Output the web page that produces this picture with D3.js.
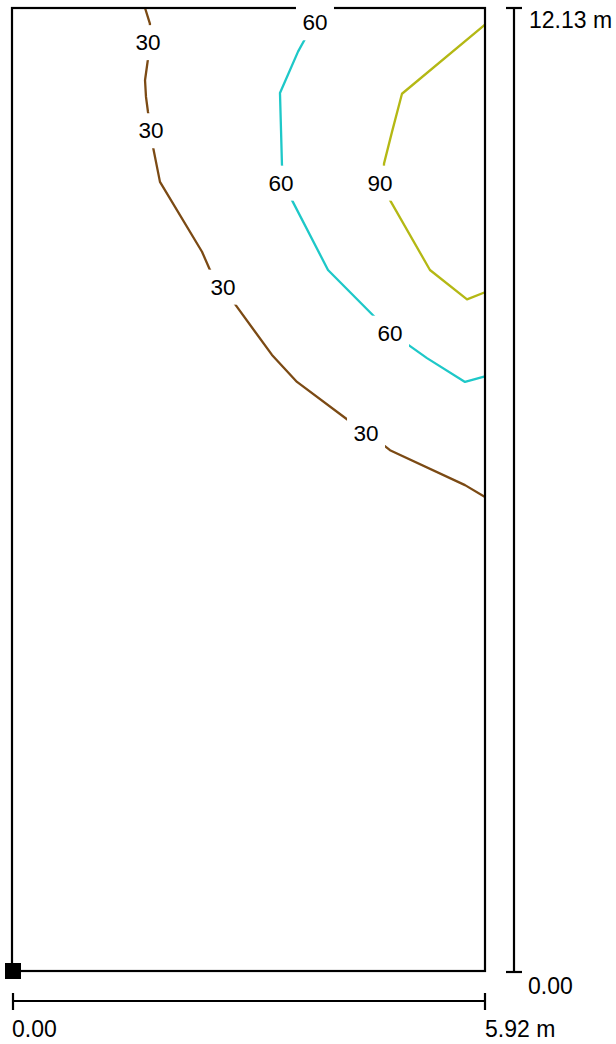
<!DOCTYPE html>
<html>
<head>
<meta charset="utf-8">
<script src="https://cdn.jsdelivr.net/npm/d3@7"></script>
<style>
  html, body { margin: 0; padding: 0; background: #fff; }
  svg { display: block; }
  text { font-family: Arial, "Liberation Sans", sans-serif; }
</style>
</head>
<body>
<svg id="chart" width="616" height="1044"></svg>
<script>
// Room dimensions (metres)
const roomWidth = 5.92;
const roomDepth = 12.13;

// Isoline levels and their colours
const levels = [30, 60, 90];
const levelColors = ["#7b4a14", "#1ec8c8", "#b4b814"];

// Isoline vertices [x, y] in metres
const iso30 = [
  [1.665, 12.13], [1.727, 11.93], [1.702, 11.70], [1.702, 11.49], [1.665, 11.22],
  [1.677, 11.01], [1.702, 10.82], [1.740, 10.59], [1.765, 10.38], [1.852, 9.94],
  [2.378, 9.06], [2.478, 8.83], [2.641, 8.62], [2.791, 8.40], [3.254, 7.76],
  [3.567, 7.42], [4.205, 6.94], [4.431, 6.78], [4.643, 6.63], [4.731, 6.56],
  [5.670, 6.12], [5.920, 5.97]
];
const iso60 = [
  [4.018, 12.13], [3.792, 11.95], [3.667, 11.74], [3.580, 11.58], [3.354, 11.06],
  [3.367, 10.59], [3.379, 10.15], [3.430, 9.93], [3.504, 9.71], [3.955, 8.83],
  [4.518, 8.26], [4.731, 8.04], [4.956, 7.89], [5.194, 7.72], [5.670, 7.42],
  [5.920, 7.49]
];
const iso90 = [
  [5.920, 11.92], [4.881, 11.05], [4.756, 10.57], [4.656, 10.17], [4.650, 9.93],
  [4.731, 9.71], [5.231, 8.83], [5.695, 8.46], [5.920, 8.55]
];

// Isoline value labels: [level, x, y] in metres
const isoLabels = [
  [30, 1.702, 11.70], [30, 1.740, 10.59], [30, 2.641, 8.62], [30, 4.431, 6.78],
  [60, 3.792, 11.95], [60, 3.367, 9.93], [60, 4.731, 8.04],
  [90, 4.606, 9.93]
];

// Dimension labels
const depthLabels = ["12.13 m", "0.00"];
const widthLabels = ["0.00", "5.92 m"];

const svg = d3.select("#chart");
const plotLeft = 12, plotRight = 485, plotTop = 8, plotBottom = 971;

const x = d3.scaleLinear().domain([0, roomWidth]).range([plotLeft, plotRight]);
const y = d3.scaleLinear().domain([0, roomDepth]).range([plotBottom, plotTop]);
const color = d3.scaleOrdinal().domain(levels).range(levelColors);

const line = d3.line().x(d => x(d[0])).y(d => y(d[1]));

// Isolines
const isolines = [[30, iso30], [60, iso60], [90, iso90]];
svg.append("g")
  .selectAll("path")
  .data(isolines)
  .join("path")
  .attr("d", d => line(d[1]))
  .attr("fill", "none")
  .attr("stroke", d => color(d[0]))
  .attr("stroke-width", 2.3)
  .attr("stroke-linejoin", "round");

// Room outline
svg.append("rect")
  .attr("x", x(0)).attr("y", y(roomDepth))
  .attr("width", x(roomWidth) - x(0))
  .attr("height", y(0) - y(roomDepth))
  .attr("fill", "none")
  .attr("stroke", "#000")
  .attr("stroke-width", 2.2);

// Isoline labels with white knock-out behind
const lab = svg.append("g").selectAll("g")
  .data(isoLabels)
  .join("g")
  .attr("transform", d => `translate(${x(d[1])},${y(d[2])})`);
lab.append("rect")
  .attr("x", -19).attr("y", -17).attr("width", 38).attr("height", 35)
  .attr("fill", "#fff");
lab.append("text")
  .attr("text-anchor", "middle")
  .attr("dy", "0.36em")
  .attr("font-size", 22.5)
  .attr("fill", "#000")
  .text(d => d[0]);

// Origin marker
svg.append("rect")
  .attr("x", x(0) - 7).attr("y", y(0) - 8)
  .attr("width", 16).attr("height", 16)
  .attr("fill", "#000");

// Depth dimension line (right)
const dimX = 514;
const dim = svg.append("g").attr("stroke", "#000").attr("stroke-width", 2.2);
dim.append("line").attr("x1", dimX).attr("x2", dimX).attr("y1", y(roomDepth)).attr("y2", y(0) + 1);
dim.append("line").attr("x1", dimX - 8).attr("x2", dimX + 8).attr("y1", y(roomDepth)).attr("y2", y(roomDepth));
dim.append("line").attr("x1", dimX - 8).attr("x2", dimX + 8).attr("y1", y(0) + 1).attr("y2", y(0) + 1);

// Width dimension line (bottom)
const dimY = 1001;
dim.append("line").attr("x1", x(0) + 1).attr("x2", x(roomWidth)).attr("y1", dimY).attr("y2", dimY);
dim.append("line").attr("x1", x(0) + 1).attr("x2", x(0) + 1).attr("y1", dimY - 8).attr("y2", dimY + 9);
dim.append("line").attr("x1", x(roomWidth)).attr("x2", x(roomWidth)).attr("y1", dimY - 8).attr("y2", dimY + 9);

const dimText = svg.append("g").attr("font-size", 23).attr("fill", "#000");
dimText.append("text").attr("x", 529).attr("y", 28).text(depthLabels[0]);
dimText.append("text").attr("x", 528).attr("y", 994).text(depthLabels[1]);
dimText.append("text").attr("x", 12).attr("y", 1037).text(widthLabels[0]);
dimText.append("text").attr("x", 485).attr("y", 1037).text(widthLabels[1]);
</script>
</body>
</html>
